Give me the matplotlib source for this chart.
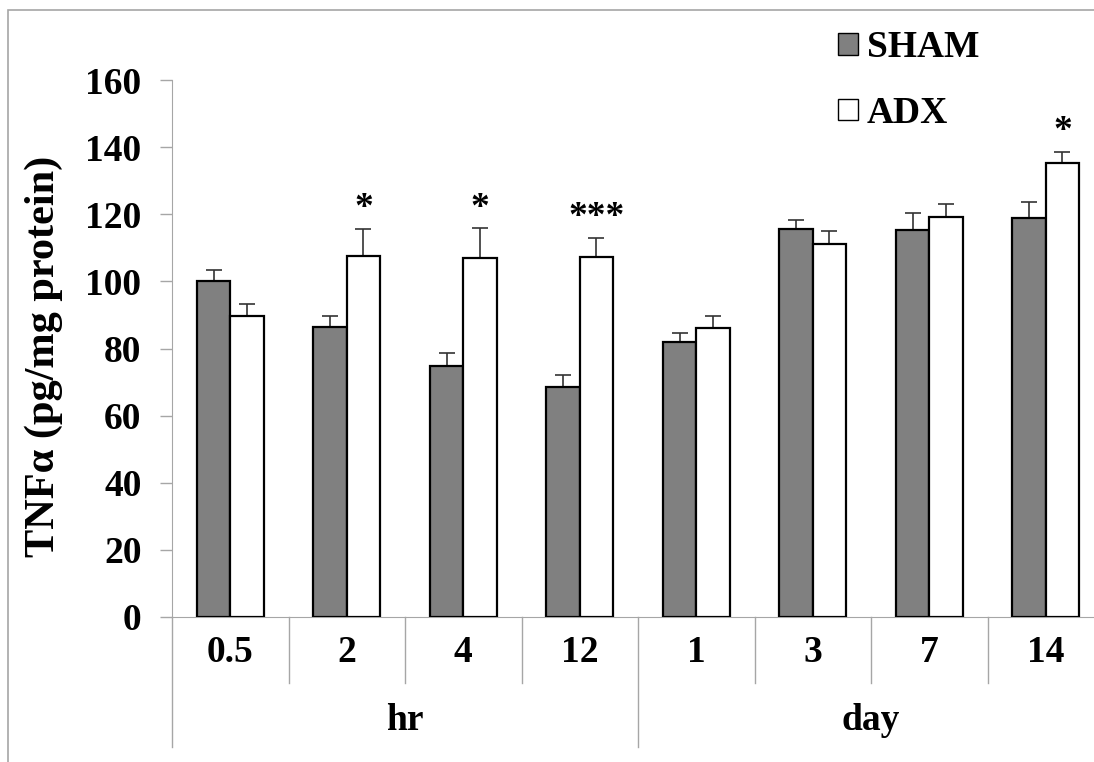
import numpy as np
import matplotlib.pyplot as plt
from matplotlib.patches import Patch, Rectangle

# data
times = ["0.5", "2", "4", "12", "1", "3", "7", "14"]
groups = ["hr", "day"]
sham = [100.0, 86.3, 74.9, 68.6, 82.0, 115.5, 115.3, 118.8]
sham_err = [3.4, 3.3, 3.7, 3.6, 2.7, 2.9, 5.1, 4.8]
adx = [89.7, 107.6, 106.9, 107.4, 86.0, 111.2, 119.1, 135.2]
adx_err = [3.6, 8.0, 8.9, 5.6, 3.7, 3.9, 4.0, 3.4]
stars = ["", "*", "*", "***", "", "", "", "*"]

W, H = 1094, 762
plt.rcParams['font.family'] = ['Liberation Serif', 'DejaVu Serif']
plt.rcParams['font.weight'] = 'bold'

fig = plt.figure(figsize=(W / 100, H / 100), dpi=100)
# outer chart frame
fig.add_artist(Rectangle((8 / W, -0.1), 1.2, 1 - 10 / H + 0.1, transform=fig.transFigure,
                         fill=False, edgecolor='#a6a6a6', linewidth=1.2))

ax = fig.add_axes([172 / W, 1 - 617 / H, 932 / W, 537 / H])
x = np.arange(len(times))
bw = 0.287
gray = '#a6a6a6'
fs = 27

ax.bar(x - bw / 2, sham, bw, color='#808080', edgecolor='black', linewidth=1.6, zorder=3)
ax.bar(x + bw / 2, adx, bw, color='white', edgecolor='black', linewidth=1.6, zorder=3)
ax.errorbar(x - bw / 2, sham, yerr=[np.zeros(len(x)), sham_err], fmt='none',
            ecolor='#333333', elinewidth=1.2, capsize=6, capthick=1.2, zorder=2)
ax.errorbar(x + bw / 2, adx, yerr=[np.zeros(len(x)), adx_err], fmt='none',
            ecolor='#333333', elinewidth=1.2, capsize=6, capthick=1.2, zorder=2)

for i, s in enumerate(stars):
    if s:
        ax.annotate(s, (x[i] + bw / 2, adx[i] + adx_err[i]), xytext=(0, 2),
                    textcoords='offset points', ha='center', va='bottom',
                    fontsize=fs, fontweight='bold')

ax.set_xlim(-0.5, len(times) - 0.5)
ax.set_ylim(0, 160)
ax.set_yticks(np.arange(0, 161, 20))
ax.tick_params(axis='y', direction='out', length=9, width=1, color=gray,
               labelsize=fs, pad=13)
for lbl in ax.get_yticklabels():
    lbl.set_fontweight('bold')
ax.set_xticks([])
for sp in ['top', 'right']:
    ax.spines[sp].set_visible(False)
ax.spines['left'].set_color(gray)
ax.spines['bottom'].set_color(gray)
ax.spines['left'].set_zorder(1)

# multi-level category axis
tr = ax.get_xaxis_transform()
short = (617 - 683) / 537
long_ = (617 - 747) / 537
for i in range(len(times)):
    ax.text(x[i], (617 - 653) / 537, times[i], transform=tr, ha='center', va='center',
            fontsize=fs, fontweight='bold')
for b in np.arange(0.5, len(times) - 1, 1.0):
    ylow = long_ if b == 3.5 else short
    ax.plot([b, b], [0, ylow], transform=tr, color=gray, lw=1, clip_on=False)
ax.plot([-0.5, -0.5], [0, long_], transform=tr, color=gray, lw=1, clip_on=False)
ax.text(1.5, (617 - 721) / 537, groups[0], transform=tr, ha='center', va='center',
        fontsize=fs, fontweight='bold')
ax.text(5.5, (617 - 721) / 537, groups[1], transform=tr, ha='center', va='center',
        fontsize=fs, fontweight='bold')

fig.text(44 / W, 1 - 356 / H, "TNFα (pg/mg protein)", rotation=90, ha='center',
         va='center', fontsize=30.5, fontweight='bold')

handles = [Patch(facecolor='#808080', edgecolor='black', linewidth=1),
           Patch(facecolor='white', edgecolor='black', linewidth=1)]
leg = fig.legend(handles, ["SHAM", "ADX"], loc='upper left',
                 bbox_to_anchor=(838 / W, 1 - 30 / H), frameon=False,
                 prop={'size': fs, 'weight': 'bold'}, handlelength=0.52,
                 handleheight=0.52, handletextpad=0.25, labelspacing=0.82,
                 borderpad=0, borderaxespad=0)

fig.savefig("out.png", dpi=100)
